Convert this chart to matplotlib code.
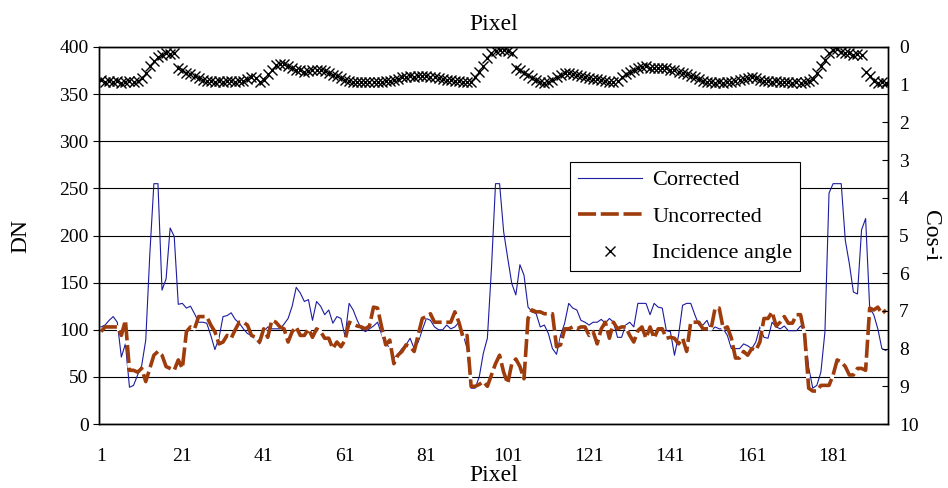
import numpy as np
import matplotlib.pyplot as plt
import matplotlib as mpl

# Corrected DN per pixel (1..194)
corrected = [
    103, 105, 110, 114, 108, 71, 85, 39, 41, 52,
    62, 89, 180, 255, 255, 142, 154, 208, 199, 127,
    128, 123, 125, 117, 108, 108, 107, 94, 79, 91,
    114, 115, 118, 111, 107, 101, 96, 94, 90, 85,
    98, 103, 101, 101, 101, 106, 112, 125, 145, 139,
    130, 132, 110, 130, 125, 116, 121, 107, 114, 112,
    93, 128, 121, 110, 101, 98, 101, 104, 108, 95,
    84, 82, 70, 74, 80, 84, 91, 80, 87, 100,
    112, 110, 103, 100, 100, 105, 101, 103, 108, 96,
    80, 38, 38, 50, 75, 91, 165, 255, 255, 204,
    176, 149, 137, 169, 158, 124, 119, 117, 103, 105,
    96, 80, 74, 94, 107, 128, 123, 121, 110, 108,
    105, 108, 108, 111, 107, 112, 108, 92, 92, 105,
    108, 103, 128, 128, 128, 116, 128, 124, 123, 99,
    98, 73, 94, 126, 128, 128, 116, 105, 105, 110,
    99, 103, 101, 101, 94, 80, 80, 80, 85, 83,
    80, 87, 103, 92, 91, 108, 103, 101, 104, 99,
    99, 99, 104, 99, 60, 38, 41, 55, 98, 245,
    255, 255, 255, 195, 170, 140, 138, 206, 218, 123,
    116, 101, 80, 78,
]

# Uncorrected DN per pixel
uncorrected = [
    98, 103, 103, 103, 103, 94, 110, 57, 57, 55,
    59, 45, 59, 73, 77, 73, 61, 59, 57, 68,
    59, 98, 103, 101, 114, 114, 114, 105, 98, 85,
    87, 94, 91, 100, 108, 108, 105, 94, 92, 87,
    101, 92, 110, 108, 103, 101, 87, 98, 103, 94,
    94, 101, 92, 101, 98, 91, 91, 80, 87, 82,
    89, 108, 106, 104, 103, 101, 104, 124, 123, 103,
    84, 89, 64, 73, 77, 84, 82, 77, 95, 112,
    114, 117, 108, 108, 108, 108, 108, 119, 108, 92,
    94, 40, 40, 42, 45, 40, 52, 64, 73, 55,
    43, 64, 69, 61, 48, 112, 121, 119, 119, 117,
    117, 117, 82, 84, 101, 101, 103, 101, 103, 103,
    94, 98, 85, 101, 108, 91, 108, 101, 103, 103,
    94, 87, 99, 103, 91, 103, 91, 101, 101, 91,
    92, 91, 85, 91, 77, 108, 108, 108, 101, 101,
    101, 123, 123, 101, 103, 91, 70, 70, 77, 73,
    80, 78, 87, 112, 112, 119, 104, 108, 114, 107,
    107, 116, 116, 95, 38, 35, 35, 41, 41, 41,
    52, 68, 66, 61, 52, 52, 59, 59, 57, 123,
    121, 124, 117, 121,
]

# Cos-i (right axis)
incidence = [
    0.88, 0.92, 0.90, 0.93, 0.90, 0.95, 0.92, 0.90, 0.93, 0.90,
    0.82, 0.70, 0.50, 0.38, 0.27, 0.20, 0.15, 0.18, 0.15, 0.57,
    0.62, 0.68, 0.72, 0.78, 0.83, 0.87, 0.90, 0.90, 0.92, 0.90,
    0.92, 0.90, 0.90, 0.92, 0.90, 0.90, 0.85, 0.80, 0.82, 0.93,
    0.88, 0.72, 0.60, 0.48, 0.45, 0.45, 0.50, 0.57, 0.60, 0.62,
    0.65, 0.63, 0.60, 0.60, 0.60, 0.63, 0.68, 0.74, 0.78, 0.82,
    0.87, 0.90, 0.92, 0.92, 0.92, 0.93, 0.92, 0.92, 0.93, 0.92,
    0.90, 0.90, 0.88, 0.85, 0.80, 0.80, 0.78, 0.80, 0.78, 0.77,
    0.77, 0.80, 0.80, 0.83, 0.85, 0.87, 0.88, 0.90, 0.90, 0.92,
    0.93, 0.92, 0.80, 0.65, 0.50, 0.30, 0.15, 0.10, 0.08, 0.08,
    0.10, 0.15, 0.57, 0.60, 0.68, 0.75, 0.82, 0.88, 0.92, 0.95,
    0.93, 0.88, 0.80, 0.75, 0.70, 0.70, 0.72, 0.74, 0.77, 0.80,
    0.82, 0.84, 0.86, 0.88, 0.90, 0.92, 0.93, 0.90, 0.80, 0.72,
    0.65, 0.60, 0.55, 0.52, 0.50, 0.55, 0.57, 0.55, 0.57, 0.57,
    0.60, 0.62, 0.65, 0.68, 0.72, 0.76, 0.80, 0.85, 0.90, 0.92,
    0.93, 0.95, 0.93, 0.95, 0.93, 0.92, 0.90, 0.88, 0.85, 0.82,
    0.79, 0.82, 0.88, 0.90, 0.90, 0.92, 0.90, 0.92, 0.93, 0.92,
    0.95, 0.93, 0.95, 0.93, 0.90, 0.85, 0.68, 0.50, 0.35, 0.15,
    0.08, 0.05, 0.12, 0.17, 0.15, 0.20, 0.18, 0.22, 0.65, 0.78,
    0.90, 0.95, 0.93, 0.95,
]

x_ticks = [1, 21, 41, 61, 81, 101, 121, 141, 161, 181]


def main():
    mpl.rc('font', family='Liberation Serif', size=14)

    pixel = np.arange(1, len(corrected) + 1)

    fig = plt.figure(figsize=(9.48, 4.88), dpi=100)
    ax = fig.add_axes([0.1044, 0.1311, 0.8323, 0.7726])
    ax2 = ax.twinx()

    # 格子線
    ax.set_axisbelow(True)
    ax.yaxis.grid(True, color="black", linewidth=0.8)

    l1, = ax.plot(pixel, corrected, color="#1c1ca0", linewidth=0.8,
                  label="Corrected")
    l2, = ax.plot(pixel, uncorrected, color="#9e3c0c", linewidth=2.6,
                  dashes=(5, 1.3), gapcolor="white", label="Uncorrected")
    l3, = ax2.plot(pixel, incidence, linestyle="none", marker="x",
                   markersize=6.5, markeredgewidth=1.0, color="black",
                   label="Incidence angle")

    ax.set_xlim(0.5, len(pixel) + 0.5)
    ax.set_ylim(0, 400)
    ax.set_yticks(np.arange(0, 401, 50))
    ax.set_xticks(x_ticks)
    ax.tick_params(axis="x", length=0, pad=17)
    ax.tick_params(axis="y", length=4, direction="out")

    ax2.set_ylim(10, 0)
    ax2.set_yticks(np.arange(0, 11, 1))
    ax2.tick_params(axis="y", length=4, direction="in", pad=8)

    for a in (ax, ax2):
        for s in a.spines.values():
            s.set_linewidth(1.0)

    ax.set_xlabel("Pixel", fontsize=17, labelpad=0)
    ax.set_title("Pixel", fontsize=17, pad=12)
    ax.set_ylabel("DN", fontsize=17, labelpad=20)
    ax2.set_ylabel("Cos-i", fontsize=17, rotation=270, labelpad=16)

    leg = ax2.legend(handles=[l1, l2, l3], loc="upper left",
                     bbox_to_anchor=(0.597, 0.695), fontsize=16,
                     frameon=True, fancybox=False, edgecolor="black",
                     framealpha=1, handlelength=2.9, borderpad=0.35,
                     labelspacing=0.72, handletextpad=0.45,
                     borderaxespad=0)
    leg.get_frame().set_linewidth(0.8)

    plt.savefig("out.png", dpi=100)


if __name__ == '__main__':
    main()
